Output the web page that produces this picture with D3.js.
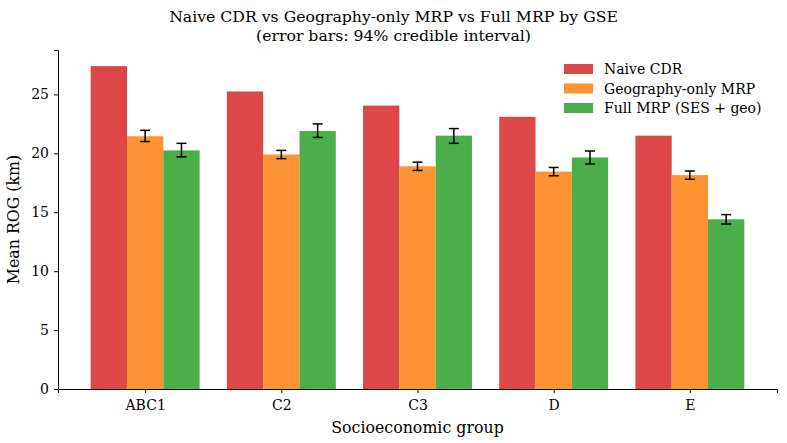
<!DOCTYPE html>
<html>
<head>
<meta charset="utf-8">
<script src="https://cdn.jsdelivr.net/npm/d3@7"></script>
<style>
  body { margin: 0; background: #fff; }
  svg text { font-family: "DejaVu Serif", serif; fill: #000; }
</style>
</head>
<body>
<div id="chart"></div>
<script>
// data
const groups = ["ABC1", "C2", "C3", "D", "E"];
const seriesNames = ["Naive CDR", "Geography-only MRP", "Full MRP (SES + geo)"];
const naive = [27.4, 25.25, 24.05, 23.1, 21.5];
const geoMean = [21.45, 19.9, 18.9, 18.45, 18.15];
const geoLo = [21.0, 19.55, 18.55, 18.1, 17.8];
const geoHi = [21.95, 20.25, 19.25, 18.8, 18.5];
const fullMean = [20.25, 21.9, 21.5, 19.65, 14.4];
const fullLo = [19.7, 21.35, 20.85, 19.1, 14.0];
const fullHi = [20.85, 22.5, 22.1, 20.2, 14.8];
const yTicks = [0, 5, 10, 15, 20, 25];
const colors = ["#dc4748", "#ff9232", "#4bae4b"];

const W = 787, H = 443;
const margin = { top: 50, right: 10, bottom: 54, left: 58 };
const width = W - margin.left - margin.right,
      height = H - margin.top - margin.bottom;

const svg = d3.select("#chart").append("svg")
    .attr("width", W).attr("height", H);

const g = svg.append("g")
    .attr("transform", "translate(" + margin.left + "," + margin.top + ")");

const barW = 0.8 / 3;
// matplotlib-style linear x with 5% margins
const x = d3.scaleLinear()
    .domain([-0.4 - 0.24, groups.length - 1 + 0.4 + 0.24])
    .range([0, width]);
const yMax = d3.max(naive) * 1.05;
const y = d3.scaleLinear().domain([0, yMax]).range([height, 0]);

const series = [
    { name: seriesNames[0], vals: naive, lo: null, hi: null },
    { name: seriesNames[1], vals: geoMean, lo: geoLo, hi: geoHi },
    { name: seriesNames[2], vals: fullMean, lo: fullLo, hi: fullHi }
];

series.forEach((s, si) => {
    const off = (si - 1) * barW;
    g.selectAll(".bar" + si)
        .data(s.vals)
        .enter().append("rect")
        .attr("x", (d, i) => x(i + off - barW / 2))
        .attr("width", x(barW) - x(0))
        .attr("y", d => y(d))
        .attr("height", d => height - y(d))
        .attr("fill", colors[si]);

    if (s.lo) {
        const eb = g.selectAll(".err" + si)
            .data(s.vals)
            .enter().append("g");
        eb.append("line")
            .attr("x1", (d, i) => x(i + off)).attr("x2", (d, i) => x(i + off))
            .attr("y1", (d, i) => y(s.lo[i])).attr("y2", (d, i) => y(s.hi[i]))
            .attr("stroke", "#000").attr("stroke-width", 1.5);
        [s.lo, s.hi].forEach(arr => {
            eb.append("line")
                .attr("x1", (d, i) => x(i + off) - 5).attr("x2", (d, i) => x(i + off) + 5)
                .attr("y1", (d, i) => y(arr[i])).attr("y2", (d, i) => y(arr[i]))
                .attr("stroke", "#000").attr("stroke-width", 1.5);
        });
    }
});

// axes
const xAxis = g.append("g")
    .attr("transform", "translate(0," + height + ")")
    .call(d3.axisBottom(x).tickValues(d3.range(groups.length))
        .tickFormat(i => groups[i]).tickSizeOuter(0).tickSize(4).tickPadding(7));
const yAxis = g.append("g")
    .call(d3.axisLeft(y).tickValues(yTicks).tickSizeOuter(0).tickSize(4).tickPadding(5));

[xAxis, yAxis].forEach(a => {
    a.select(".domain").attr("stroke", "#000").attr("stroke-width", 1);
    a.selectAll("text").style("font-size", "14px").attr("font-family", "DejaVu Serif");
    a.selectAll(".tick line").attr("stroke", "#000");
});

// axis labels
svg.append("text")
    .attr("x", margin.left + width / 2).attr("y", 433)
    .attr("text-anchor", "middle").style("font-size", "15.8px")
    .text("Socioeconomic group");
svg.append("text")
    .attr("transform", "translate(19," + (margin.top + height / 2) + ") rotate(-90)")
    .attr("text-anchor", "middle").style("font-size", "15.8px")
    .text("Mean ROG (km)");

// title (centred on the figure)
const title = svg.append("text")
    .attr("x", W / 2).attr("y", 22)
    .attr("text-anchor", "middle").style("font-size", "15.7px");
title.append("tspan").attr("x", W / 2).text("Naive CDR vs Geography-only MRP vs Full MRP by GSE");
title.append("tspan").attr("x", W / 2).attr("dy", 19).text("(error bars: 94% credible interval)");

// legend
const legend = svg.append("g").attr("transform", "translate(564,64)");
seriesNames.forEach((n, i) => {
    const row = legend.append("g").attr("transform", "translate(0," + i * 19.5 + ")");
    row.append("rect").attr("width", 29).attr("height", 10).attr("fill", colors[i]);
    row.append("text").attr("x", 40).attr("y", 10)
        .style("font-size", "14px").text(n);
});
</script>
</body>
</html>
